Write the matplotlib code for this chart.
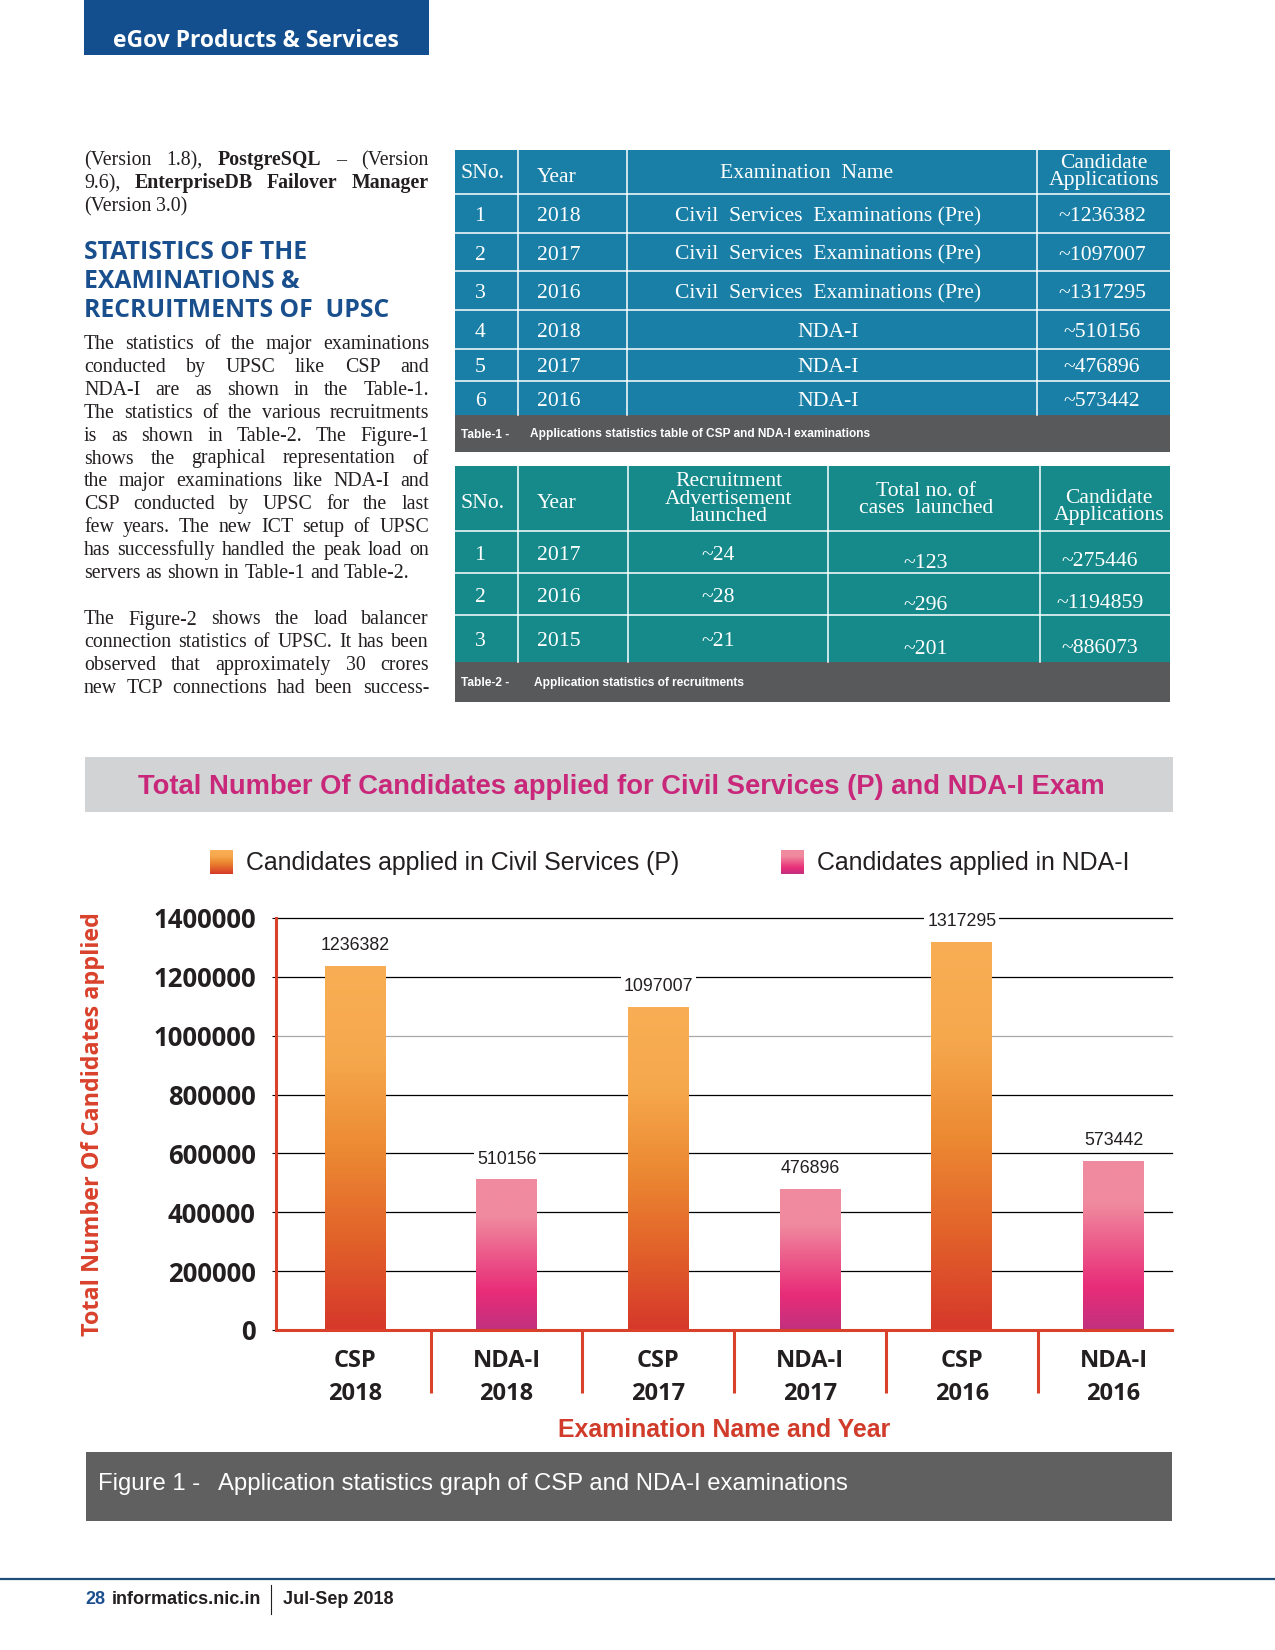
import matplotlib
matplotlib.use('Agg')
import matplotlib.pyplot as plt
import matplotlib.transforms as mtransforms
from matplotlib.patches import Rectangle
from matplotlib.colors import LinearSegmentedColormap
import numpy as np

# ---- chart / table-1 data ----
exam_labels = ['CSP\n2018', 'NDA-I\n2018', 'CSP\n2017', 'NDA-I\n2017', 'CSP\n2016', 'NDA-I\n2016']
exam_years = ['2018', '2017', '2016']
csp_applied = [1236382, 1097007, 1317295]
nda_applied = [510156, 476896, 573442]
y_ticks = [0, 200000, 400000, 600000, 800000, 1000000, 1200000, 1400000]

# ---- table-2 data ----
rec_years = ['2017', '2016', '2015']
rec_adverts = [24, 28, 21]
rec_cases = [123, 296, 201]
rec_applied = [275446, 1194859, 886073]

# ---- left column text (*word* = bold) ----
intro_lines = ['(Version 1.8), *PostgreSQL* \u2013 (Version',
               '9.6), *EnterpriseDB* *Failover* *Manager*',
               '(Version 3.0)']
heading_lines = ['STATISTICS OF THE', 'EXAMINATIONS &', 'RECRUITMENTS OF  UPSC']
para1 = ['The statistics of the major examinations',
         'conducted by UPSC like CSP and',
         'NDA-I are as shown in the Table-1.',
         'The statistics of the various recruitments',
         'is as shown in Table-2. The Figure-1',
         'shows the graphical representation of',
         'the major examinations like NDA-I and',
         'CSP conducted by UPSC for the last',
         'few years. The new ICT setup of UPSC',
         'has successfully handled the peak load on',
         'servers as shown in Table-1 and Table-2.']
para2 = ['The Figure-2 shows the load balancer',
         'connection statistics of UPSC. It has been',
         'observed that approximately 30 crores',
         'new TCP connections had been success-']

COND = 'Liberation Sans'   # stands in for the condensed face of the magazine
SERIF = 'Liberation Serif'
SANS = 'Open Sans'
INK = '#231f20'
RED = '#d9412b'

fig = plt.figure(figsize=(12.75, 16.5), dpi=100)
page = fig.add_axes([0, 0, 1, 1])
page.axis('off')
r = fig.canvas.get_renderer()

# header tab
page.add_patch(Rectangle((84, 0), 345, 55, color='#134f8e', lw=0))
page.text(256, 41, 'eGov Products & Services', color='white', fontsize=16.5,
          family=SANS, weight='bold', ha='center', va='center')


def justify(line, y, x0=84, x1=429, size=14.3, last=False):
    objs = []
    for w in line.split():
        bold = w.startswith('*')
        objs.append(page.text(0, y, w.strip('*'), fontsize=size, family=SERIF, color=INK,
                              weight='bold' if bold else 'normal', va='baseline'))
    widths = [t.get_window_extent(renderer=r).width for t in objs]
    gap = size * 100 / 72 * 0.25
    if not last and len(objs) > 1:
        gap = (x1 - x0 - sum(widths)) / (len(objs) - 1)
    x = x0
    for t, wd in zip(objs, widths):
        t.set_x(x)
        x += wd + gap


for i, line in enumerate(intro_lines):
    justify(line, 165 + 23 * i, last=(i == len(intro_lines) - 1))
for i, line in enumerate(heading_lines):
    page.text(84, 259 + 29 * i, line, fontsize=17.8, family=SANS, weight='bold',
              color='#1a4f8e', va='baseline')
for i, line in enumerate(para1):
    justify(line, 349 + 22.9 * i, last=(i == len(para1) - 1))
for i, line in enumerate(para2):
    justify(line, 624.5 + 22.7 * i)


def table_frame(cols, rows, fill, cap_bottom, cap_label, cap_text, cap_x):
    x0, x1 = cols[0], cols[-1]
    page.add_patch(Rectangle((x0, rows[0]), x1 - x0, rows[-1] - rows[0], color=fill, lw=0))
    for y in rows[1:-1]:
        page.plot([x0, x1], [y, y], color='white', lw=1.1)
    for x in cols[1:-1]:
        page.plot([x, x], [rows[0], rows[-1]], color='white', lw=1.1)
    page.add_patch(Rectangle((x0, rows[-1]), x1 - x0, cap_bottom - rows[-1], color='#58595b', lw=0))
    yc = (rows[-1] + cap_bottom) / 2 + 1
    page.text(x0 + 6, yc, cap_label, color='white', fontsize=8.6, family=COND, weight='bold', va='center')
    page.text(cap_x, yc, cap_text, color='white', fontsize=8.6, family=COND, weight='bold', va='center')


def cell(x, y, s, ha='center'):
    page.text(x, y + 3, s, color='white', fontsize=15.6, family=SERIF, ha=ha, va='center',
              linespacing=0.9)


# ---- table 1 ----
t1_cols = [455, 517.6, 627, 1037, 1170]
t1_rows = [150, 194, 233, 271, 310, 349, 381, 415]
table_frame(t1_cols, t1_rows, '#1a7fa6', 452, 'Table-1 -',
            'Applications statistics table of CSP and NDA-I examinations', 530)
cell(461, 170, 'SNo.', ha='left')
cell(537, 174, 'Year', ha='left')
cell(807, 171, 'Examination  Name')
cell(1104, 169, 'Candidate\nApplications')
t1_names = ['Civil  Services  Examinations (Pre)'] * 3 + ['NDA-I'] * 3
t1_years = exam_years + exam_years
t1_apps = csp_applied + nda_applied
for i in range(6):
    yc = (t1_rows[i + 1] + t1_rows[i + 2]) / 2
    cell(480, yc, str(i + 1))
    cell(537, yc, t1_years[i], ha='left')
    cell(828, yc, t1_names[i])
    cell(1102, yc, '~%d' % t1_apps[i])

# ---- table 2 ----
t2_cols = [455, 518, 628, 828, 1040, 1170]
t2_rows = [466, 531, 573, 615, 662]
table_frame(t2_cols, t2_rows, '#168a8a', 702, 'Table-2 -',
            'Application statistics of recruitments', 534)
cell(461, 501, 'SNo.', ha='left')
cell(537, 501, 'Year', ha='left')
cell(729, 496, 'Recruitment\nAdvertisement\nlaunched')
cell(926, 497, 'Total no. of\ncases  launched')
cell(1109, 504, 'Candidate\nApplications')
for i in range(3):
    yc = (t2_rows[i + 1] + t2_rows[i + 2]) / 2
    cell(480, yc, str(i + 1))
    cell(537, yc, rec_years[i], ha='left')
    cell(718, yc, '~%d' % rec_adverts[i])
    cell(926, yc + 8, '~%d' % rec_cases[i])
    cell(1100, yc + 7, '~%d' % rec_applied[i])

# ---- chart title band + legend ----
page.add_patch(Rectangle((85, 757), 1088, 55, color='#d1d3d4', lw=0))
page.text(137.5, 787, 'Total Number Of Candidates applied for Civil Services (P) and NDA-I Exam',
          color='#c9287a', fontsize=19.7, family=COND, weight='bold', va='center')

csp_cmap = LinearSegmentedColormap.from_list('csp', ['#d6382a', '#e2622a', '#ec8a33', '#f6a84d', '#f9ae55'])
nda_cmap = LinearSegmentedColormap.from_list('nda', ['#c1317f', '#e82c78', '#ec5a8a', '#f08a9f', '#f08a9f'])
grad = np.linspace(0, 1, 256).reshape(-1, 1)

for x0, cmap, label in [(210, csp_cmap, 'Candidates applied in Civil Services (P)'),
                        (781, nda_cmap, 'Candidates applied in NDA-I')]:
    page.imshow(grad, cmap=cmap, extent=(x0, x0 + 23, 874, 850), origin='lower',
                aspect='auto', zorder=2)
    page.text(x0 + 36, 863, label, fontsize=17.9, family=COND, color=INK, va='center')

# ---- bar chart ----
ax = fig.add_axes([276 / 1275, 320 / 1650, 896 / 1275, 412 / 1650])
ax.patch.set_visible(False)
values = []
cmaps = []
for c, n in zip(csp_applied, nda_applied):
    values += [c, n]
    cmaps += [csp_cmap, nda_cmap]
xpos = np.arange(len(values))
bars = ax.bar(xpos, values, width=0.4, color='none', zorder=3)
for b, cm, v in zip(bars, cmaps, values):
    ax.imshow(grad, cmap=cm, origin='lower', aspect='auto', zorder=3,
              extent=[b.get_x(), b.get_x() + b.get_width(), 0, b.get_height()])
    ax.annotate(str(v), (b.get_x() + b.get_width() / 2, v), xytext=(0, 15),
                textcoords='offset points', ha='center', va='center', fontsize=12.8,
                family=COND, color=INK, zorder=5,
                bbox=dict(fc='white', ec='none', pad=2))

for t in y_ticks[1:]:
    ax.axhline(t, color='#a8a8a8' if t == 1000000 else 'black', lw=0.9, zorder=1, clip_on=False)

ax.set_xlim(-0.52, 5.386)
ax.set_ylim(0, 1400000)
ax.set_yticks(y_ticks)
ax.set_yticklabels([str(t) for t in y_ticks])
ax.set_xticks(xpos)
ax.set_xticklabels(exam_labels)
ax.tick_params(axis='y', length=3, width=0.8, color='black', pad=11.5)
ax.tick_params(axis='x', length=0, pad=13.5)
for lab in ax.get_yticklabels():
    lab.set(fontsize=18.5, family=SANS, weight='bold', color=INK)
for lab in ax.get_xticklabels():
    lab.set(fontsize=17, family=SANS, weight='bold', color=INK, linespacing=1.5)

for s in ['top', 'right']:
    ax.spines[s].set_visible(False)
for s in ['left', 'bottom']:
    ax.spines[s].set_color(RED)
    ax.spines[s].set_linewidth(2.2)
    ax.spines[s].set_zorder(4)

sep = mtransforms.blended_transform_factory(ax.transData, ax.transAxes)
for i in range(len(values) - 1):
    ax.plot([i + 0.5, i + 0.5], [0, -0.153], transform=sep, color=RED, lw=2.2,
            clip_on=False, solid_capstyle='butt')

ax.set_ylabel('Total Number Of Candidates applied', color=RED, fontsize=16.8,
              family=SANS, weight='bold')
ax.yaxis.set_label_coords(-0.2037, 0.5)
ax.yaxis.label.set_va('center')
ax.set_xlabel('Examination Name and Year', color='#d13c2a', fontsize=17.9,
              family=COND, weight='bold')
ax.xaxis.set_label_coords(0.5, -100 / 412)
ax.xaxis.label.set_va('center')

# ---- figure caption ----
page.add_patch(Rectangle((86, 1452), 1086, 69, color='#606060', lw=0))
page.text(97.5, 1484, 'Figure 1 -', color='white', fontsize=17.2, family=COND, va='center')
page.text(218, 1484, 'Application statistics graph of CSP and NDA-I examinations',
          color='white', fontsize=17.2, family=COND, va='center')

# ---- footer ----
page.plot([0, 1275], [1579, 1579], color='#1f4e7a', lw=1.6)
page.text(85, 1600, '28', color='#1c4f8f', fontsize=13, family=COND, weight='bold', va='center')
page.text(112, 1600, 'informatics.nic.in', color=INK, fontsize=13, family=COND, weight='bold', va='center')
page.plot([271, 271], [1585, 1614], color=INK, lw=0.8)
page.text(283, 1600, 'Jul-Sep 2018', color=INK, fontsize=13, family=COND, weight='bold', va='center')

page.set_xlim(0, 1275)
page.set_ylim(1650, 0)

fig.savefig('out.png', dpi=100)
